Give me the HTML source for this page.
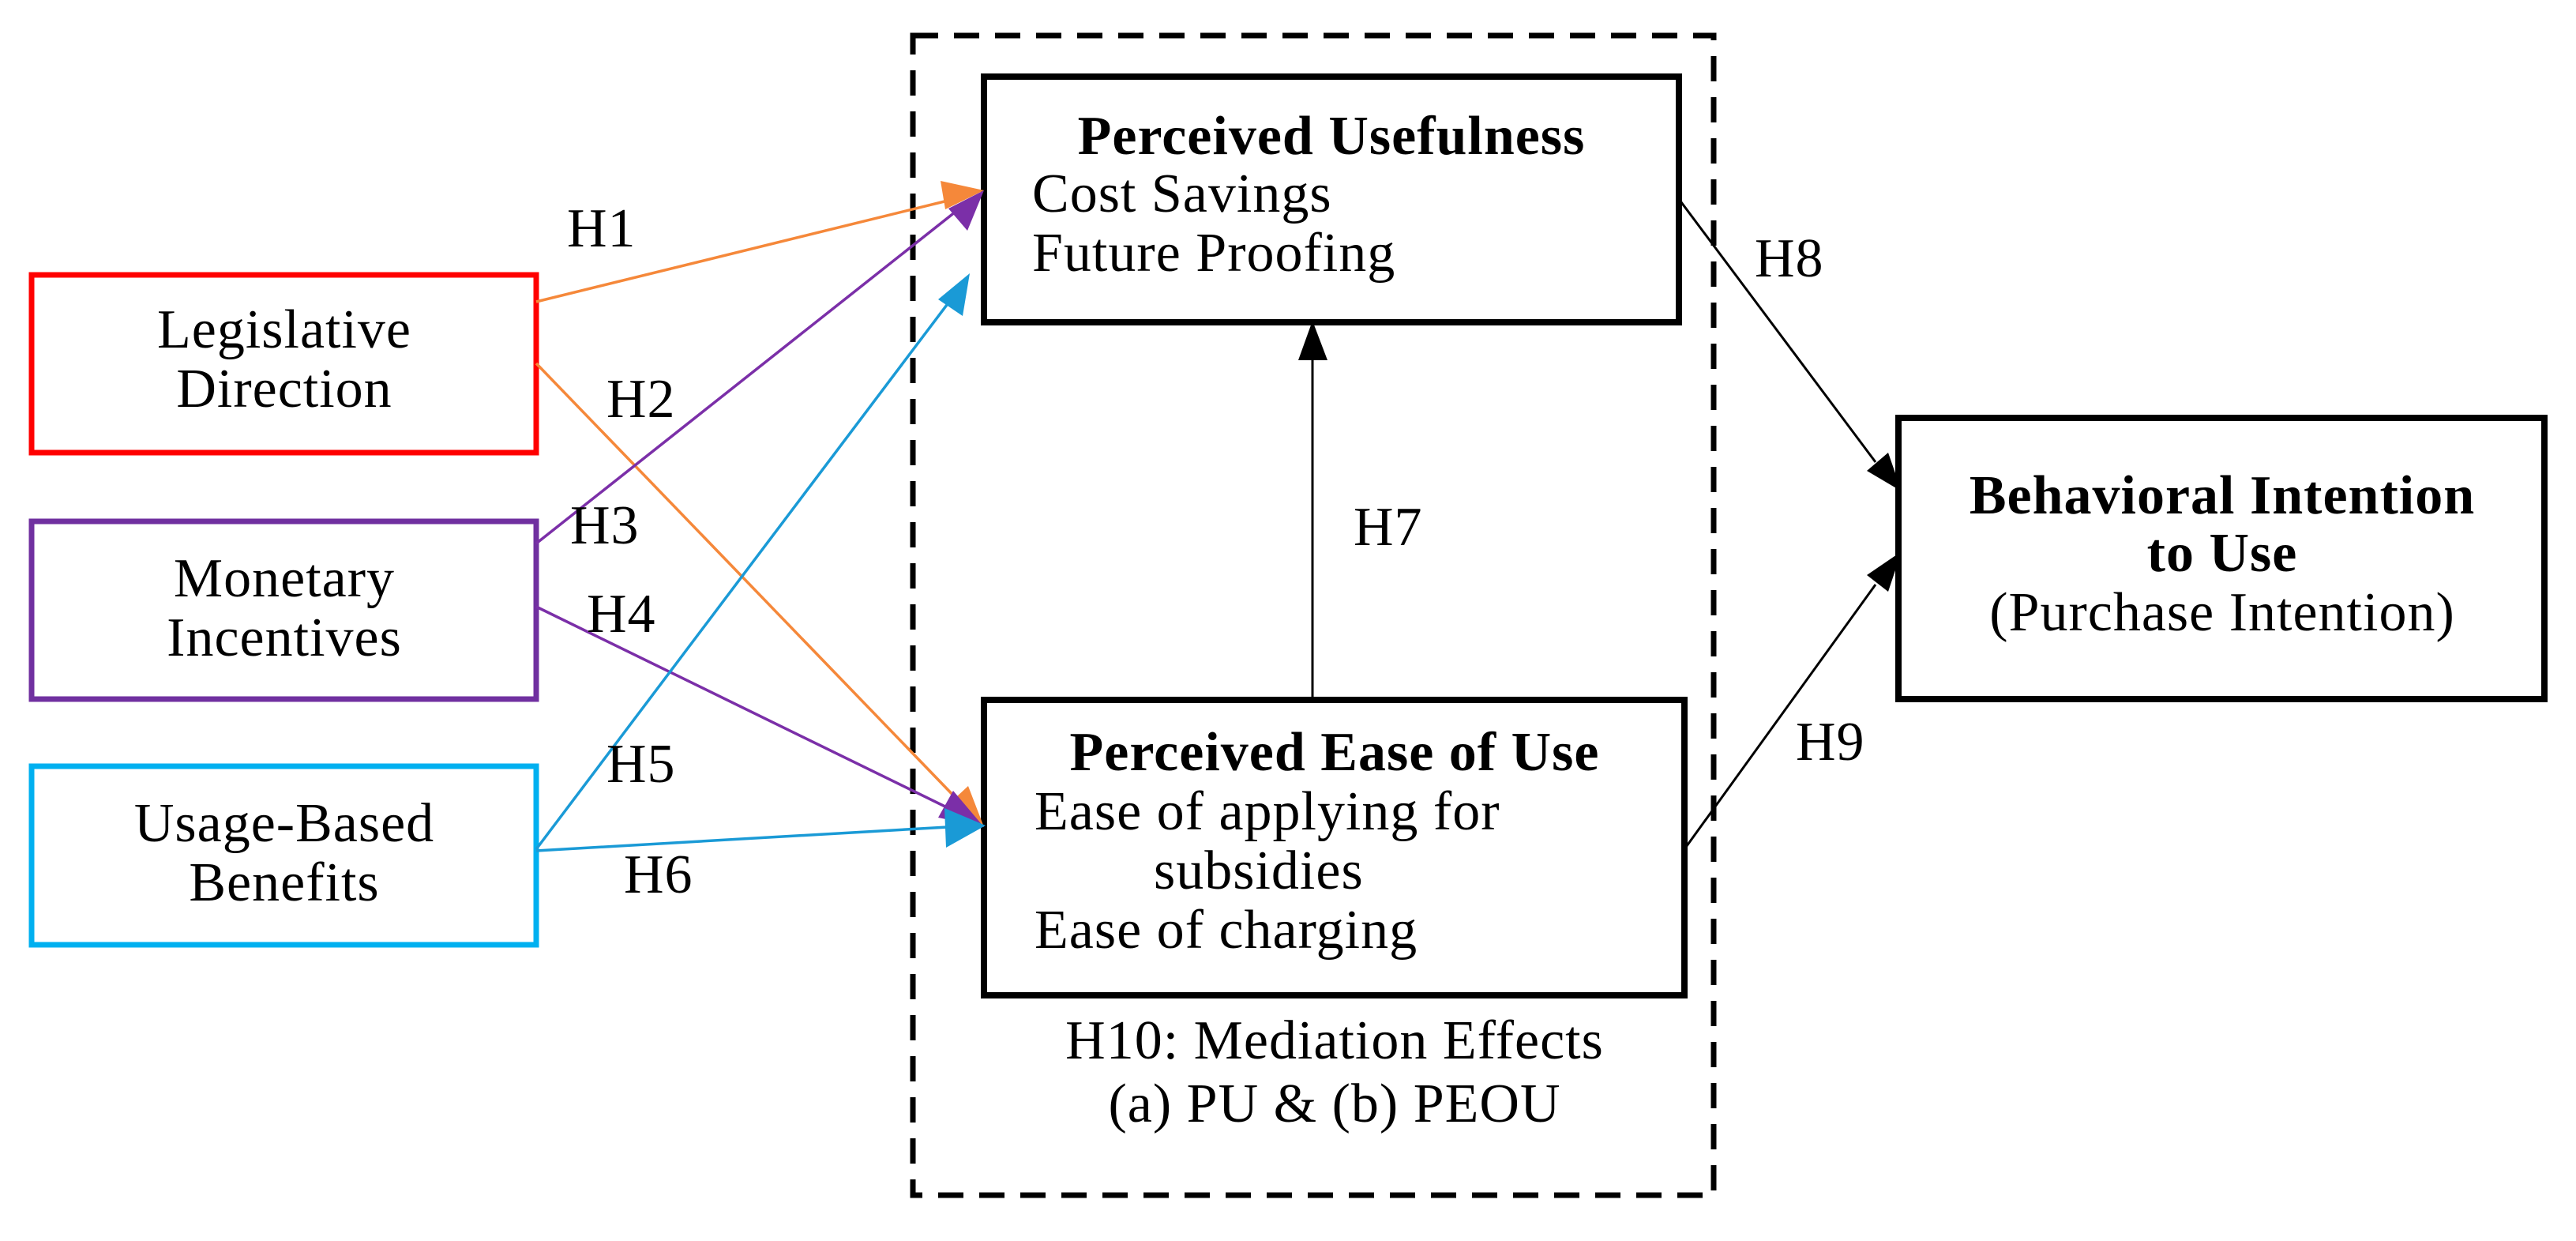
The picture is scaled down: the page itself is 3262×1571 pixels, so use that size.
<!DOCTYPE html>
<html><head><meta charset="utf-8"><style>
html,body{margin:0;padding:0;background:#fff;}
svg{display:block;}
text{font-family:"Liberation Serif",serif;font-size:70px;letter-spacing:1px;fill:#000;}
.b{font-weight:bold;}
</style></head><body>
<svg width="3262" height="1571" viewBox="0 0 3262 1571" xmlns="http://www.w3.org/2000/svg">
<rect x="1156" y="45" width="1014" height="1468" fill="none" stroke="#000" stroke-width="7" stroke-dasharray="32,20"/>
<rect x="40" y="348" width="639" height="225" fill="none" stroke="#ff0000" stroke-width="7"/>
<rect x="40" y="660" width="639" height="225" fill="none" stroke="#7030a0" stroke-width="7"/>
<rect x="40" y="970" width="639" height="226" fill="none" stroke="#00b0f0" stroke-width="7"/>
<rect x="1246" y="97" width="880" height="311" fill="none" stroke="#000" stroke-width="8"/>
<rect x="1246" y="886" width="887" height="374" fill="none" stroke="#000" stroke-width="8"/>
<rect x="2404" y="529" width="818" height="356" fill="none" stroke="#000" stroke-width="8"/>

<g stroke-width="3.5" fill="none">
<line x1="679" y1="382" x2="1200" y2="254" stroke="#f5883a"/>
<line x1="679" y1="460" x2="1215" y2="1015" stroke="#f5883a"/>
<line x1="679" y1="688" x2="1210" y2="268" stroke="#7b2fa8"/>
<line x1="679" y1="768" x2="1205" y2="1025" stroke="#7b2fa8"/>
<line x1="679" y1="1075" x2="1205" y2="378" stroke="#1a9ad6"/>
<line x1="679" y1="1077" x2="1200" y2="1047" stroke="#1a9ad6"/>
<line x1="1662" y1="884" x2="1662" y2="455" stroke="#000" stroke-width="3"/>
<line x1="2126" y1="252" x2="2375" y2="585" stroke="#000" stroke-width="3"/>
<line x1="2133" y1="1075" x2="2375" y2="740" stroke="#000" stroke-width="3"/>
</g>
<polygon points="1246,241 1197,265 1191,229" fill="#f5883a"/>
<polygon points="1246,1047 1226,995 1198,1021" fill="#f5883a"/>
<polygon points="1246,241 1225,292 1201,264" fill="#7b2fa8"/>
<polygon points="1246,1047 1188,1035 1207,1001" fill="#7b2fa8"/>
<polygon points="1228,346 1219,400 1188,379" fill="#1a9ad6"/>
<polygon points="1248,1045 1198,1073 1196,1023" fill="#1a9ad6"/>
<polygon points="1662,406 1644,456 1681,456" fill="#000"/>
<polygon points="2408,622 2364,596 2391,573" fill="#000"/>
<polygon points="2408,698 2391,749 2364,728" fill="#000"/>

<text x="360" y="440" text-anchor="middle">Legislative</text>
<text x="360" y="515" text-anchor="middle">Direction</text>
<text x="360" y="755" text-anchor="middle">Monetary</text>
<text x="360" y="830" text-anchor="middle">Incentives</text>
<text x="360" y="1065" text-anchor="middle">Usage-Based</text>
<text x="360" y="1140" text-anchor="middle">Benefits</text>

<text class="b" x="1686" y="195" text-anchor="middle">Perceived Usefulness</text>
<text x="1307" y="268">Cost Savings</text>
<text x="1307" y="343">Future Proofing</text>
<text class="b" x="1690" y="975" text-anchor="middle">Perceived Ease of Use</text>
<text x="1310" y="1050">Ease of applying for</text>
<text x="1461" y="1125">subsidies</text>
<text x="1310" y="1200">Ease of charging</text>
<text x="1690" y="1340" text-anchor="middle">H10: Mediation Effects</text>
<text x="1690" y="1420" text-anchor="middle">(a) PU &amp; (b) PEOU</text>
<text class="b" x="2814" y="650" text-anchor="middle">Behavioral Intention</text>
<text class="b" x="2814" y="723" text-anchor="middle">to Use</text>
<text x="2814" y="798" text-anchor="middle">(Purchase Intention)</text>

<text x="718" y="312">H1</text>
<text x="768" y="528">H2</text>
<text x="722" y="688">H3</text>
<text x="743" y="800">H4</text>
<text x="768" y="990">H5</text>
<text x="790" y="1130">H6</text>
<text x="1714" y="690">H7</text>
<text x="2222" y="350">H8</text>
<text x="2274" y="962">H9</text>
</svg>
</body></html>
